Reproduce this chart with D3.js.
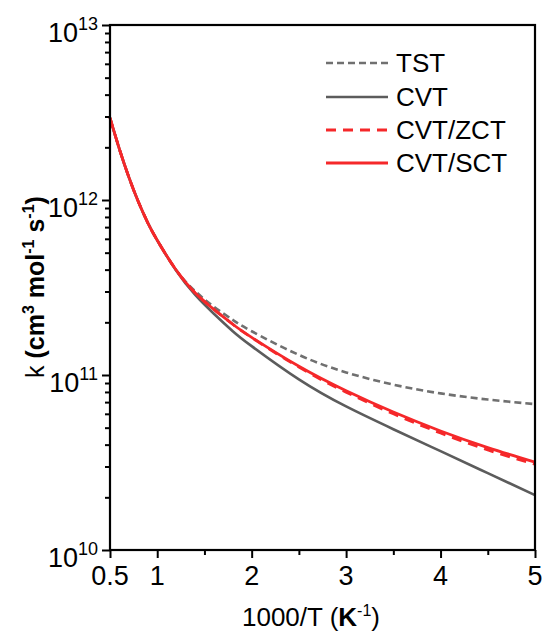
<!DOCTYPE html>
<html>
<head>
<meta charset="utf-8">
<script src="https://cdn.jsdelivr.net/npm/d3@7"></script>
<style>
  html, body { margin: 0; padding: 0; background: #fff; }
  svg { display: block; font-family: "Liberation Sans", Arial, sans-serif; }
</style>
</head>
<body>
<svg id="chart" width="544" height="633"></svg>
<script>
// ---- data ----
const xValues = [0.5, 0.6, 0.7, 0.8, 0.9, 1.0, 1.2, 1.4, 1.6, 1.8, 2.0, 2.5, 3.0, 3.5, 4.0, 4.5, 5.0];
const kTST    = [2.944e12, 1.95e12, 1.349e12, 9.77e11, 7.41e11, 5.89e11, 3.98e11, 3.02e11, 2.455e11, 2.065e11, 1.778e11, 1.303e11, 1.035e11, 8.81e10, 7.85e10, 7.24e10, 6.82e10];
const kCVT    = [2.944e12, 1.95e12, 1.349e12, 9.77e11, 7.41e11, 5.89e11, 3.96e11, 2.88e11, 2.24e11, 1.78e11, 1.462e11, 9.44e10, 6.61e10, 4.90e10, 3.67e10, 2.75e10, 2.06e10];
const kZCT    = [2.944e12, 1.95e12, 1.349e12, 9.77e11, 7.41e11, 5.89e11, 3.98e11, 2.95e11, 2.37e11, 1.95e11, 1.635e11, 1.109e11, 7.98e10, 6.00e10, 4.66e10, 3.73e10, 3.09e10];
const kSCT    = [2.944e12, 1.95e12, 1.349e12, 9.77e11, 7.41e11, 5.89e11, 3.98e11, 2.95e11, 2.37e11, 1.95e11, 1.641e11, 1.122e11, 8.13e10, 6.14e10, 4.79e10, 3.85e10, 3.18e10];
const seriesNames = ["TST", "CVT", "CVT/ZCT", "CVT/SCT"];
const xTickValues = [0.5, 1, 2, 3, 4, 5];
const xTickLabels = ["0.5", "1", "2", "3", "4", "5"];
const xMinorTicks = [1.5, 2.5, 3.5, 4.5];
const yMajorExps = [10, 11, 12, 13];

// ---- layout ----
const svg = d3.select("#chart");
const mLeft = 110, mRight = 535, mTop = 25, mBottom = 550;
const x = d3.scaleLinear().domain([0.5, 5]).range([mLeft, mRight]);
const y = d3.scaleLog().domain([1e10, 1e13]).range([mBottom, mTop]);

const styles = [
  { color: "#707070", width: 2.6, dash: "7,4" },
  { color: "#5c5c5c", width: 2.6, dash: null },
  { color: "#f5282a", width: 2.8, dash: "10,7" },
  { color: "#f5282a", width: 2.8, dash: null }
];
const seriesData = [kTST, kCVT, kZCT, kSCT];

// curves
const line = d3.line()
  .x(d => x(d[0]))
  .y(d => y(d[1]))
  .curve(d3.curveNatural);

const order = [1, 0, 2, 3];
const g = svg.append("g");
order.forEach(i => {
  const pts = xValues.map((v, j) => [v, seriesData[i][j]]);
  g.append("path")
    .attr("d", line(pts))
    .attr("fill", "none")
    .attr("stroke", styles[i].color)
    .attr("stroke-width", styles[i].width)
    .attr("stroke-dasharray", styles[i].dash)
    .attr("stroke-linejoin", "round");
});

// axes
const yMinor = [];
for (let e = 10; e < 13; e++) for (let m = 2; m <= 9; m++) yMinor.push(m * Math.pow(10, e));
const yMajor = yMajorExps.map(e => Math.pow(10, e));

const yAxisMajor = d3.axisLeft(y).tickValues(yMajor).tickSize(8).tickFormat("");
const yAxisMinor = d3.axisLeft(y).tickValues(yMinor).tickSize(5).tickFormat("");
const xAxisMajor = d3.axisBottom(x).tickValues(xTickValues).tickSize(8).tickFormat("");
const xAxisMinor = d3.axisBottom(x).tickValues(xMinorTicks).tickSize(5).tickFormat("");

function styleAxis(sel) {
  sel.selectAll("path").remove();
  sel.selectAll("line").attr("stroke", "#000").attr("stroke-width", 2);
}
svg.append("g").attr("transform", `translate(${mLeft},0)`).call(yAxisMajor).call(styleAxis);
svg.append("g").attr("transform", `translate(${mLeft},0)`).call(yAxisMinor).call(styleAxis);
svg.append("g").attr("transform", `translate(0,${mBottom})`).call(xAxisMajor).call(styleAxis);
svg.append("g").attr("transform", `translate(0,${mBottom})`).call(xAxisMinor).call(styleAxis);

// frame
svg.append("rect")
  .attr("x", mLeft).attr("y", mTop)
  .attr("width", mRight - mLeft).attr("height", mBottom - mTop)
  .attr("fill", "none").attr("stroke", "#000").attr("stroke-width", 2.2);

// x tick labels
svg.append("g").selectAll("text").data(xTickValues).join("text")
  .attr("x", d => x(d))
  .attr("y", mBottom + 35)
  .attr("text-anchor", "middle")
  .attr("font-size", 27)
  .attr("fill", "#000")
  .text((d, i) => xTickLabels[i]);

// y tick labels
yMajorExps.forEach(e => {
  const t = svg.append("text")
    .attr("x", mLeft - 12)
    .attr("y", y(Math.pow(10, e)) + 17)
    .attr("text-anchor", "end")
    .attr("font-size", 27)
    .attr("fill", "#000");
  t.append("tspan").text("10");
  t.append("tspan").attr("font-size", 18).attr("dy", -12).text(String(e));
});

// x title
const xt = svg.append("text")
  .attr("x", 311).attr("y", 626)
  .attr("text-anchor", "middle")
  .attr("font-size", 26)
  .attr("fill", "#000");
xt.append("tspan").text("1000/T (");
xt.append("tspan").attr("font-weight", "bold").text("K");
xt.append("tspan").attr("font-size", 16).attr("dy", -10).text("-1");
xt.append("tspan").attr("dy", 10).text(")");

// y title
const yt = svg.append("text")
  .attr("transform", "translate(44,287) rotate(-90)")
  .attr("text-anchor", "middle")
  .attr("font-size", 25)
  .attr("fill", "#000");
yt.append("tspan").text("k ");
yt.append("tspan").attr("font-weight", "bold").text("(cm");
yt.append("tspan").attr("font-weight", "bold").attr("font-size", 16).attr("dy", -10).text("3");
yt.append("tspan").attr("font-weight", "bold").attr("dy", 10).text(" mol");
yt.append("tspan").attr("font-weight", "bold").attr("font-size", 16).attr("dy", -10).text("-1");
yt.append("tspan").attr("font-weight", "bold").attr("dy", 10).text(" s");
yt.append("tspan").attr("font-weight", "bold").attr("font-size", 16).attr("dy", -10).text("-1");
yt.append("tspan").attr("font-weight", "bold").attr("dy", 10).text(")");

// legend
const legY = [63, 97, 130, 163];
const lg = svg.append("g");
seriesNames.forEach((name, i) => {
  lg.append("line")
    .attr("x1", 326).attr("x2", 388)
    .attr("y1", legY[i]).attr("y2", legY[i])
    .attr("stroke", styles[i].color)
    .attr("stroke-width", styles[i].width)
    .attr("stroke-dasharray", styles[i].dash);
  lg.append("text")
    .attr("x", 396).attr("y", legY[i] + 9)
    .attr("font-size", 26)
    .attr("fill", "#000")
    .text(name);
});
</script>
</body>
</html>
